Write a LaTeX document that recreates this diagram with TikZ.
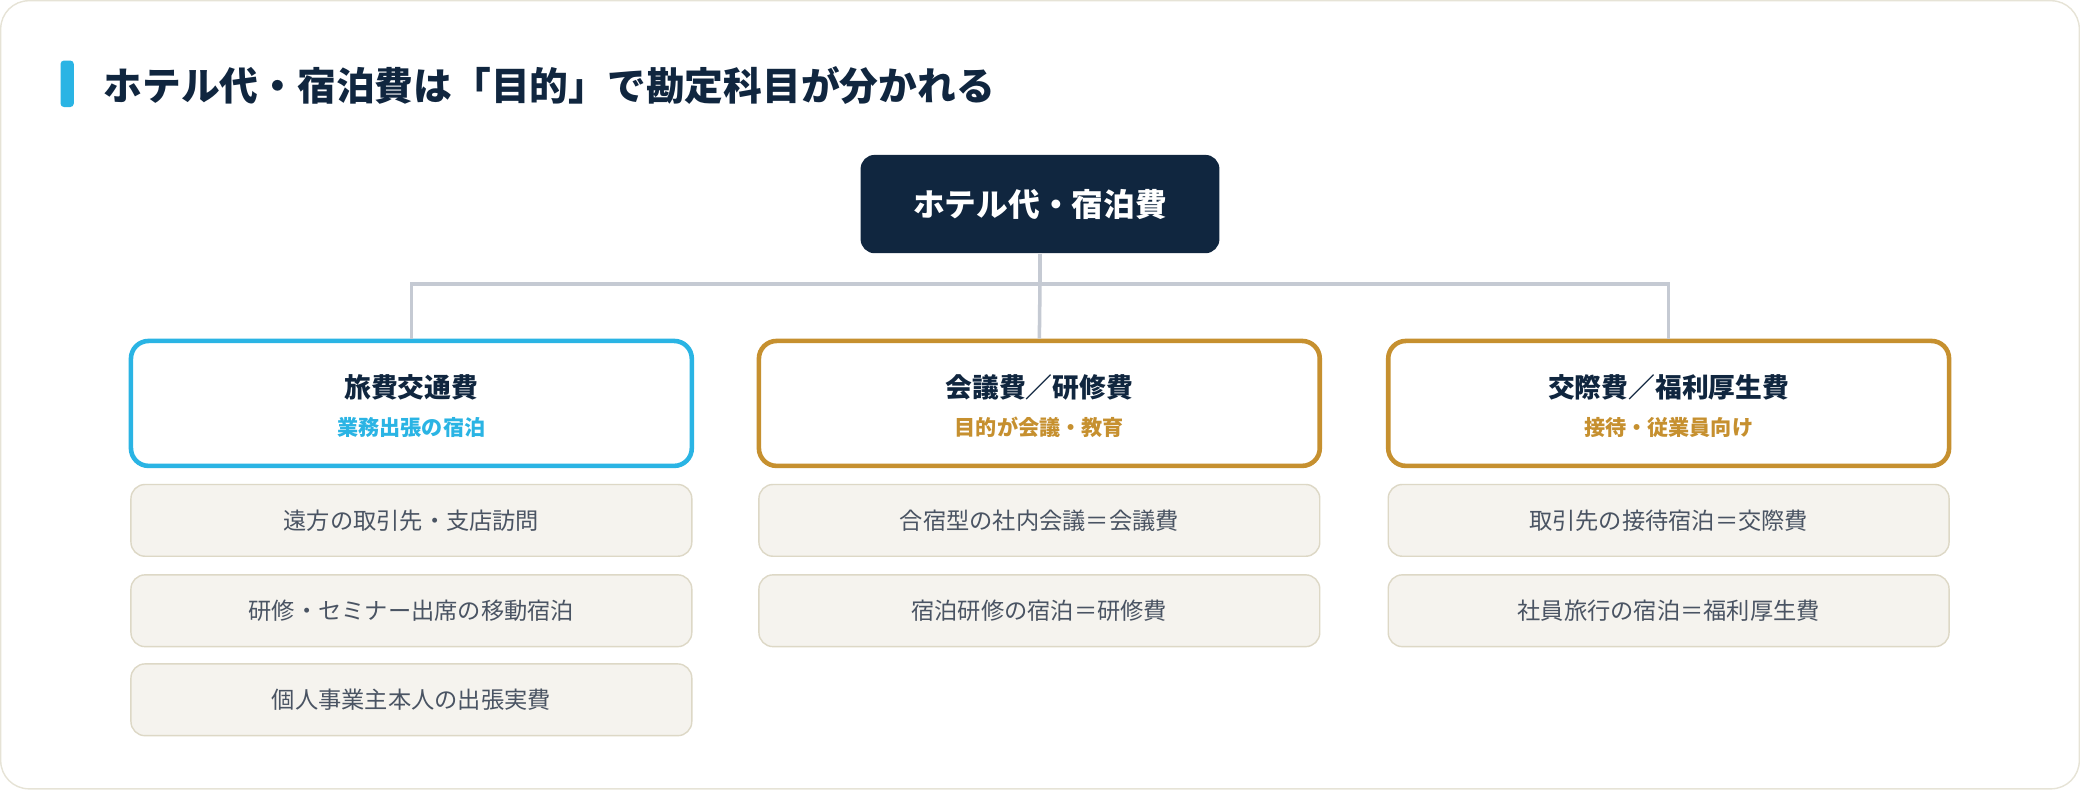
\documentclass[tikz,border=0pt]{standalone}
\usepackage{fontspec}
\setmainfont{Noto Sans CJK JP}
\usetikzlibrary{positioning,arrows.meta,calc}
\definecolor{navy}{HTML}{10263F}
\definecolor{skyb}{HTML}{2AB4E4}
\definecolor{gold}{HTML}{C6902F}
\definecolor{itemfill}{HTML}{F5F3EE}
\definecolor{itemline}{HTML}{DDD8C6}
\definecolor{frameline}{HTML}{E6E3D6}
\definecolor{linkgray}{HTML}{C5CAD3}
\definecolor{itemtext}{HTML}{4A5463}
\begin{document}
\begin{tikzpicture}[
    x=0.013265cm, y=-0.013265cm,
    root/.style={fill=navy, rounded corners=4pt, minimum width=270*0.013265cm, minimum height=74*0.013265cm, text=white, font=\fontsize{9}{11}\selectfont\bfseries},
    cat/.style={draw=#1, line width=1.3pt, fill=white, rounded corners=5pt, minimum width=422*0.013265cm, minimum height=94*0.013265cm},
    item/.style={draw=itemline, fill=itemfill, rounded corners=4pt, minimum width=422*0.013265cm, minimum height=54*0.013265cm, text=itemtext, font=\fontsize{6.6}{8}\selectfont},
    ttl/.style={text=navy, font=\fontsize{7.6}{9}\selectfont\bfseries},
    sub/.style={font=\fontsize{6}{7}\selectfont\bfseries},
    link/.style={draw=linkgray, line width=1pt}
]
% Frame
\draw[frameline, fill=white, rounded corners=8pt] (2,2) rectangle (1566,595);
\fill[skyb, rounded corners=1pt] (47,47) rectangle (57,82);
\node[anchor=west, text=navy, font=\fontsize{11}{13}\selectfont\bfseries] (title) at (70,66) {ホテル代・宿泊費は「目的」で勘定科目が分かれる};

% Root
\node[root] (hotel) at (784,155) {ホテル代・宿泊費};

% Categories
\node[cat=skyb] (travel) at (311,305) {};
\node[cat=gold] (meeting) at (783.5,305) {};
\node[cat=gold] (social) at (1257,305) {};
\node[ttl] at (311,293) {旅費交通費};
\node[sub, text=skyb] at (311,323) {業務出張の宿泊};
\node[ttl] at (783.5,293) {会議費／研修費};
\node[sub, text=gold] at (783.5,323) {目的が会議・教育};
\node[ttl] at (1257,293) {交際費／福利厚生費};
\node[sub, text=gold] at (1257,323) {接待・従業員向け};

% Links
\coordinate (hub) at (784,215);
\draw[link] (hotel.south) -- (hub);
\draw[link] (travel.north) |- (hub) -| (social.north);
\draw[link] (hub) -- (meeting.north);

% Items
\node[item] (t1) at (311,393) {遠方の取引先・支店訪問};
\node[item] (t2) at (311,461) {研修・セミナー出席の移動宿泊};
\node[item] (t3) at (311,528) {個人事業主本人の出張実費};
\node[item] (m1) at (783.5,393) {合宿型の社内会議＝会議費};
\node[item] (m2) at (783.5,461) {宿泊研修の宿泊＝研修費};
\node[item] (s1) at (1257,393) {取引先の接待宿泊＝交際費};
\node[item] (s2) at (1257,461) {社員旅行の宿泊＝福利厚生費};
\end{tikzpicture}
\end{document}
